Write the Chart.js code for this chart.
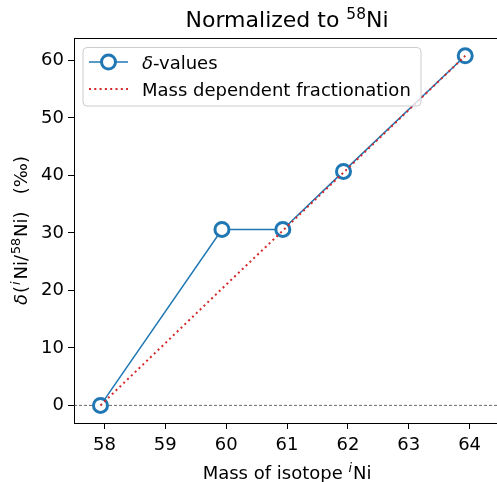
<!DOCTYPE html>
<html>
<head>
<meta charset="utf-8">
<script src="https://cdn.jsdelivr.net/npm/chart.js@4"></script>
<style>
body { margin: 0; background: #fff; }
</style>
</head>
<body>
<canvas id="niChart" width="497" height="482"></canvas>
<script>
var isotopeMass = [57.935, 59.931, 60.931, 61.928, 63.928];
var deltaValues = [0, 30.6, 30.6, 40.7, 60.8];
var massDependent = [0, 20.3, 30.4, 40.5, 60.8];
var zeroLineX = [57.5, 64.45];
var xTicks = [58, 59, 60, 61, 62, 63, 64];
var yTicks = [0, 10, 20, 30, 40, 50, 60];

var FONT = "'DejaVu Sans', sans-serif";
var BLUE = '#1f77b4';
var RED = '#d62728';

function points(xs, ys) {
    return xs.map(function (x, i) { return { x: x, y: ys[i] }; });
}

// draw text made of runs (italic / superscript parts), centred on cx
function drawRuns(ctx, runs, cx, cy, size) {
    var total = 0;
    runs.forEach(function (r) {
        var s = r.sup ? size * 0.7 : size;
        r.font = (r.it ? 'italic ' : '') + s + 'px ' + FONT;
        ctx.font = r.font;
        r.w = ctx.measureText(r.t).width + (r.gap || 0);
        total += r.w;
    });
    var x = cx - total / 2;
    var base = cy + size * 0.365;
    ctx.textAlign = 'left';
    ctx.textBaseline = 'alphabetic';
    runs.forEach(function (r) {
        ctx.font = r.font;
        ctx.fillText(r.t, x, base - (r.sup ? size * 0.37 : 0));
        x += r.w;
    });
}

var decor = {
    id: 'decor',
    afterDraw: function (chart) {
        var ctx = chart.ctx;
        var a = chart.chartArea;
        var xs = chart.scales.x;
        var cx = (xs.getPixelForValue(57.5) + xs.getPixelForValue(64.5)) / 2;
        ctx.save();
        // top spine
        ctx.strokeStyle = '#000';
        ctx.lineWidth = 1;
        ctx.beginPath();
        ctx.moveTo(a.left, a.top + 0.5);
        ctx.lineTo(a.right, a.top + 0.5);
        ctx.stroke();

        ctx.fillStyle = '#000';
        drawRuns(ctx, [{ t: 'Normalized to ' }, { t: '58', sup: true }, { t: 'Ni' }], cx, 19, 22);
        drawRuns(ctx, [{ t: 'Mass of isotope ' }, { t: 'i', it: true, sup: true, gap: 1 }, { t: 'Ni' }], cx, 472, 18);

        ctx.save();
        ctx.translate(20, (a.top + a.bottom) / 2);
        ctx.rotate(-Math.PI / 2);
        drawRuns(ctx, [
            { t: 'δ', it: true, gap: 1 }, { t: '(', gap: 1 }, { t: 'i', it: true, sup: true, gap: 2 }, { t: 'Ni/', gap: 1 },
            { t: '58', sup: true, gap: 1 }, { t: 'Ni)', gap: 0 }, { t: '   (‰)' }
        ], 0, 0, 18);
        ctx.restore();

        // legend
        var lx = 83, ly = 47.5, lw = 338, lh = 58.5;
        ctx.beginPath();
        ctx.roundRect(lx, ly, lw, lh, 4);
        ctx.fillStyle = 'rgba(255,255,255,0.8)';
        ctx.fill();
        ctx.strokeStyle = '#cccccc';
        ctx.lineWidth = 1;
        ctx.stroke();

        ctx.strokeStyle = BLUE;
        ctx.lineWidth = 1.5;
        ctx.beginPath();
        ctx.moveTo(89, 62);
        ctx.lineTo(128, 62);
        ctx.stroke();
        ctx.beginPath();
        ctx.arc(108.5, 62, 7, 0, Math.PI * 2);
        ctx.fillStyle = '#fff';
        ctx.fill();
        ctx.lineWidth = 3;
        ctx.stroke();

        ctx.strokeStyle = RED;
        ctx.lineWidth = 2;
        ctx.setLineDash([2, 3.3]);
        ctx.beginPath();
        ctx.moveTo(89, 89);
        ctx.lineTo(128, 89);
        ctx.stroke();
        ctx.setLineDash([]);

        ctx.fillStyle = '#000';
        ctx.textAlign = 'left';
        ctx.textBaseline = 'alphabetic';
        ctx.font = 'italic 18px ' + FONT;
        ctx.fillText('δ', 142, 62 + 6.5);
        var dw = ctx.measureText('δ').width;
        ctx.font = '18px ' + FONT;
        ctx.fillText('-values', 142 + dw, 62 + 6.5);
        ctx.fillText('Mass dependent fractionation', 142, 89 + 6.5);
        ctx.restore();
    }
};

new Chart(document.getElementById('niChart'), {
    type: 'line',
    data: {
        datasets: [
            {
                label: 'Mass dependent fractionation',
                data: points(isotopeMass, massDependent),
                borderColor: RED,
                borderWidth: 2,
                borderDash: [2, 3.3],
                pointRadius: 0,
                order: 0
            },
            {
                label: 'δ-values',
                data: points(isotopeMass, deltaValues),
                borderColor: BLUE,
                borderWidth: 1.5,
                backgroundColor: '#fff',
                pointBackgroundColor: '#fff',
                pointBorderColor: BLUE,
                pointBorderWidth: 3,
                pointRadius: 7,
                order: 1
            },
            {
                label: 'zero',
                data: points(zeroLineX, [0, 0]),
                borderColor: '#444',
                borderWidth: 0.8,
                borderDash: [3, 2],
                pointRadius: 0,
                order: 2
            }
        ]
    },
    options: {
        responsive: false,
        animation: false,
        layout: { autoPadding: false, padding: { top: 38, left: 0, right: 0, bottom: 0 } },
        plugins: {
            legend: { display: false },
            title: { display: false },
            tooltip: { enabled: false }
        },
        scales: {
            x: {
                type: 'linear',
                min: 57.5,
                max: 64.45,
                afterFit: function (s) { s.height = 59; s.paddingLeft = 0; s.paddingRight = 0; },
                afterBuildTicks: function (s) { s.ticks = xTicks.map(function (v) { return { value: v }; }); },
                grid: { drawOnChartArea: false, drawTicks: true, tickLength: 6, tickColor: '#000' },
                border: { display: true, color: '#000', width: 1 },
                ticks: { color: '#000', padding: 6, font: { family: FONT, size: 18 }, maxRotation: 0 }
            },
            y: {
                type: 'linear',
                min: -3.06,
                max: 63.9,
                afterFit: function (s) { s.width = 74; s.paddingTop = 0; s.paddingBottom = 0; },
                afterBuildTicks: function (s) { s.ticks = yTicks.map(function (v) { return { value: v }; }); },
                grid: { drawOnChartArea: false, drawTicks: true, tickLength: 6, tickColor: '#000' },
                border: { display: true, color: '#000', width: 1 },
                ticks: { color: '#000', padding: 4, font: { family: FONT, size: 18 } }
            }
        }
    },
    plugins: [decor]
});
</script>
</body>
</html>
